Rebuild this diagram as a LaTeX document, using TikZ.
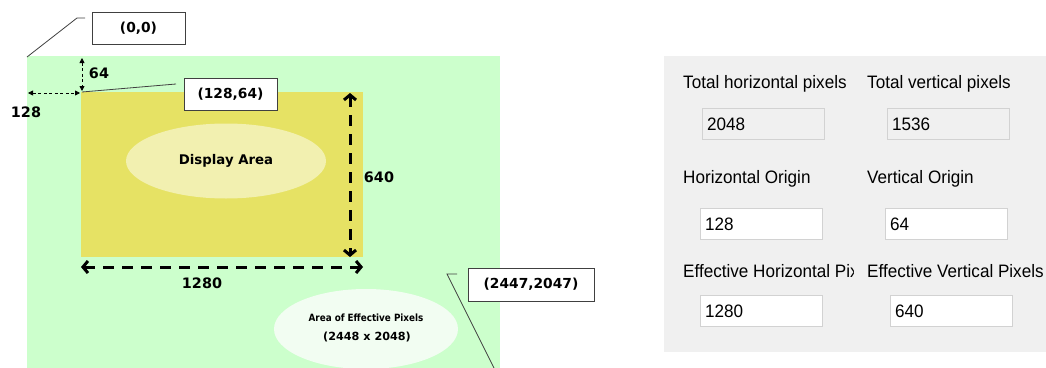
\documentclass[tikz,border=0pt]{standalone}
\usepackage{fontspec}
\setmainfont{DejaVu Sans}
\newfontfamily\vfont{DejaVu Sans}
\newfontfamily\vcond[FakeStretch=0.88]{DejaVu Sans}
\newfontfamily\winfont[FakeStretch=0.95]{Liberation Sans}
\usetikzlibrary{arrows.meta,shapes.geometric}
\definecolor{greenA}{HTML}{CCFFCC}
\definecolor{yel}{HTML}{E6E264}
\definecolor{paleyel}{HTML}{F2F0B0}
\definecolor{palegreen}{HTML}{F2FDF2}
\definecolor{panel}{HTML}{F0F0F0}
\definecolor{boxline}{HTML}{D2D2D2}
\definecolor{callline}{HTML}{404040}
\tikzset{
  callout/.style={draw=callline, line width=1pt, fill=white, inner sep=0pt,
    font=\vfont\bfseries\fontsize{13.8}{15}\selectfont},
  calllink/.style={draw=callline, line width=0.8pt},
  dimlabel/.style={font=\vfont\bfseries\fontsize{14.4}{16}\selectfont, inner sep=0pt},
  bigdim/.style={line width=3pt, dash pattern=on 11pt off 8pt,
    {Straight Barb[length=5pt,width=12pt,line width=3pt]}-{Straight Barb[length=5pt,width=12pt,line width=3pt]}},
  smalldim/.style={line width=0.8pt, dash pattern=on 3pt off 2.5pt,
    {Triangle[length=5pt,width=5pt]}-{Triangle[length=5pt,width=5pt]}},
  winlabel/.style={anchor=base west, inner sep=0pt, font=\winfont\fontsize{18}{20}\selectfont},
  winbox/.style={draw=boxline, line width=1pt, anchor=north west, inner sep=0pt,
    minimum width=122pt, minimum height=31pt},
  wintext/.style={anchor=base west, inner sep=0pt, font=\winfont\fontsize{18}{20}\selectfont},
}
\begin{document}
\begin{tikzpicture}[x=1pt,y=-1pt]
\useasboundingbox (0,0) rectangle (1046,367);
% ---------- left diagram ----------
\node[fill=greenA, anchor=north west, inner sep=0pt, minimum width=473pt, minimum height=312pt] (effarea) at (27,56) {};
\node[fill=yel, anchor=north west, inner sep=0pt, minimum width=282pt, minimum height=165pt] (disparea) at (81,92) {};
\node[ellipse, fill=paleyel, inner sep=0pt, minimum width=200pt, minimum height=75pt,
  font=\vfont\bfseries\fontsize{13.3}{15}\selectfont] (dispell) at (226,161) {Display Area};
\node[ellipse, fill=palegreen, inner sep=0pt, minimum width=184pt, minimum height=80pt] (effell) at (366,329) {};
\node[inner sep=0pt, font=\vcond\bfseries\fontsize{10}{12}\selectfont] (efftxt1) at (366,318) {Area of Effective Pixels};
\node[inner sep=0pt, font=\vfont\bfseries\fontsize{11.2}{13}\selectfont] (efftxt2) at (367,337) {(2448 x 2048)};

% callouts
\node[callout, minimum width=93pt, minimum height=32pt] (c00) at (138.5,28) {(0,0)};
\node[callout, minimum width=93pt, minimum height=32pt] (c128) at (230.5,94) {(128,64)};
\node[callout, minimum width=126pt, minimum height=33pt] (c2447) at (531,284.5) {(2447,2047)};

\coordinate (o0) at (27,57);
\coordinate (o1) at (77,18);
\coordinate (o2) at (85,18);
\draw[calllink] (o0) -- (o1) -- (o2);
\coordinate (p0) at (82,92);
\coordinate (p1) at (176,84);
\draw[calllink] (p0) -- (p1);
\coordinate (q0) at (457,274);
\coordinate (q1) at (447,274);
\coordinate (q2) at (494,368);
\draw[calllink] (q0) -- (q1) -- (q2);

% dimension arrows
\coordinate (v1) at (350,93);
\coordinate (v2) at (350,257);
\draw[bigdim] (v1) -- (v2);
\coordinate (h1) at (81,267);
\coordinate (h2) at (363,267);
\draw[bigdim] (h1) -- (h2);
\coordinate (s1) at (82,58);
\coordinate (s2) at (82,91);
\draw[smalldim] (s1) -- (s2);
\coordinate (t1) at (28,93);
\coordinate (t2) at (80,93);
\draw[smalldim] (t1) -- (t2);

\node[dimlabel] (l640) at (379,177) {640};
\node[dimlabel] (l1280) at (202,283) {1280};
\node[dimlabel] (l64) at (99,73) {64};
\node[dimlabel] (l128) at (26,112) {128};

% ---------- right panel ----------
\node[fill=panel, anchor=north west, inner sep=0pt, minimum width=382pt, minimum height=296pt] (panelbg) at (664,56) {};

\node[winlabel] (lth) at (683,88) {Total horizontal pixels};
\node[winlabel] (ltv) at (867,88) {Total vertical pixels};
\node[winlabel] (lho) at (683,183) {Horizontal Origin};
\node[winlabel] (lvo) at (867,183) {Vertical Origin};
\begin{scope}
  \clip (675,255) rectangle (853,290);
  \node[winlabel] (leh) at (683,277) {Effective Horizontal Pixels};
\end{scope}
\node[winlabel] (lev) at (867,277) {Effective Vertical Pixels};

\node[winbox, fill=panel] (b1) at (702,108) {};
\node[winbox, fill=panel] (b2) at (887,108) {};
\node[winbox, fill=white] (b3) at (700,208) {};
\node[winbox, fill=white] (b4) at (885,208) {};
\node[winbox, fill=white] (b5) at (700,295) {};
\node[winbox, fill=white] (b6) at (890,295) {};

\node[wintext] (t2048) at (707,130) {2048};
\node[wintext] (t1536) at (892,130) {1536};
\node[wintext] (t128) at (705,230) {128};
\node[wintext] (t64) at (890,230) {64};
\node[wintext] (t1280) at (705,317) {1280};
\node[wintext] (t640) at (895,317) {640};
\end{tikzpicture}
\end{document}
